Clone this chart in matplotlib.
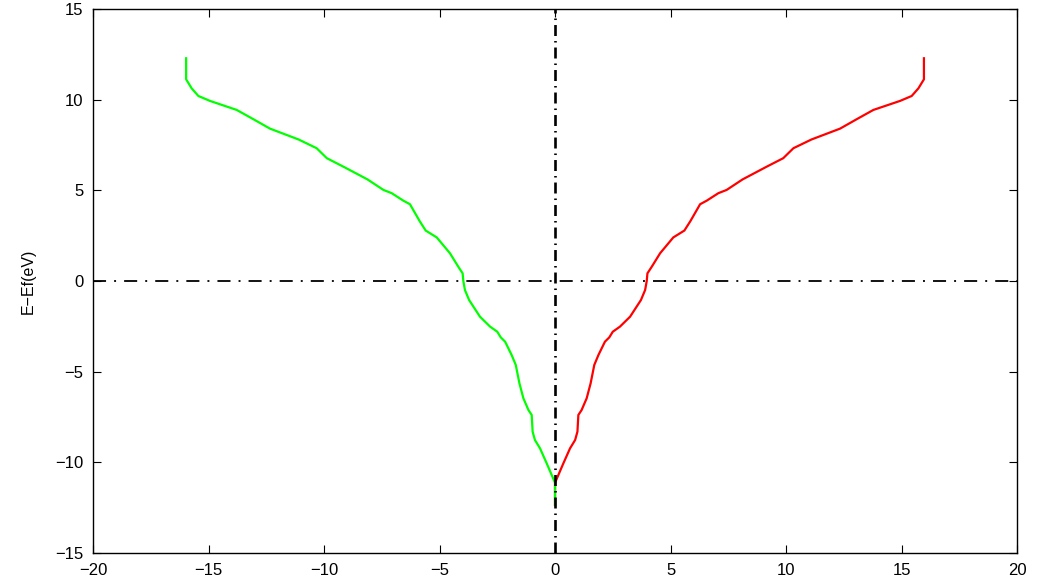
import matplotlib
matplotlib.use("Agg")
import matplotlib.pyplot as plt
import numpy as np

# DOS-like curve (right half, red); the left half (green) is its mirror image
energy = [-12.35, -11.13, -10.06, -9.23, -8.77, -8.31, -7.39, -7.12, -6.47, -5.65,
          -4.63, -4.08, -3.35, -3.11, -2.80, -2.52, -1.97, -1.05, -0.50, 0.00,
          0.42, 0.79, 1.53, 2.40, 2.78, 3.30, 4.23, 4.43, 4.84, 5.02,
          5.60, 6.30, 6.77, 7.32, 7.80, 8.40, 8.92, 9.43, 9.93, 10.20,
          10.62, 11.12, 12.28]
dos_right = [0.00, 0.00, 0.36, 0.65, 0.87, 0.97, 1.01, 1.15, 1.37, 1.54,
             1.70, 1.88, 2.16, 2.35, 2.50, 2.81, 3.25, 3.72, 3.90, 3.97,
             4.00, 4.19, 4.55, 5.12, 5.60, 5.86, 6.28, 6.57, 7.07, 7.43,
             8.12, 9.16, 9.88, 10.32, 11.10, 12.34, 13.06, 13.78, 14.94, 15.44,
             15.73, 15.97, 15.97]
dos_left = [-v for v in dos_right]

xticks = [-20, -15, -10, -5, 0, 5, 10, 15, 20]
yticks = [-15, -10, -5, 0, 5, 10, 15]

plt.rcParams['font.family'] = ['Liberation Sans', 'DejaVu Sans']
plt.rcParams['lines.scale_dashes'] = False

fig = plt.figure(figsize=(10.5, 5.8), dpi=100)
ax = fig.add_axes([0.0886, 0.0466, 0.88, 0.938])

ax.plot(dos_right, energy, color='#ff0000', lw=1.6, solid_joinstyle='round')
ax.plot(dos_left, energy, color='#00ff00', lw=1.6, solid_joinstyle='round')

hl, = ax.plot([-20, 20], [0, 0], color='black', lw=1.3)
hl.set_dashes([9.4, 5.8, 1.4, 5.8])
vl, = ax.plot([0, 0], [-15, 15], color='black', lw=1.9)
vl.set_dashes([7.9, 3.6, 1.1, 3.6])

ax.set_xlim(-20, 20)
ax.set_ylim(-15, 15)
ax.set_xticks(xticks)
ax.set_yticks(yticks)
ax.set_xticklabels([str(t).replace('-', '\u2212') for t in xticks])
ax.set_yticklabels([str(t).replace('-', '\u2212') for t in yticks])
ax.tick_params(direction='in', length=6, width=0.8, top=True, right=True,
               labelsize=12, pad=7)
for s in ax.spines.values():
    s.set_linewidth(1.0)
ax.set_ylabel('E\u2212Ef(eV)', fontsize=11.5, labelpad=14)

fig.savefig('out.png', dpi=100)
